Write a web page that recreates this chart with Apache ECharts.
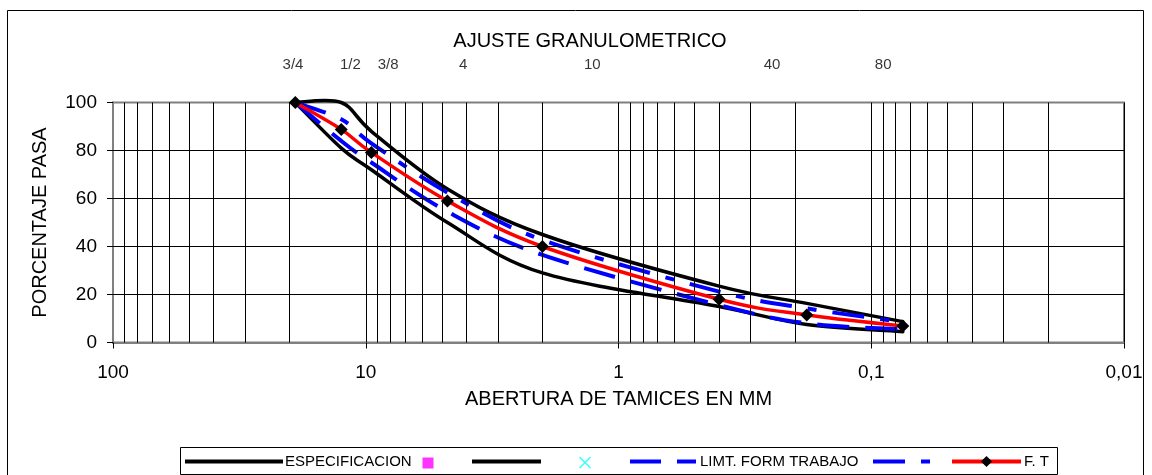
<!DOCTYPE html>
<html>
<head>
<meta charset="utf-8">
<script src="https://cdn.jsdelivr.net/npm/echarts@6/dist/echarts.min.js"></script>
<style>
html,body{margin:0;padding:0;background:#fff;}
#chart{width:1152px;height:475px;}
</style>
</head>
<body>
<div id="chart"></div>
<script>
// ---- data (sieve openings in mm, percent passing) ----
const SIEVES      = [19.0, 12.5, 9.5, 4.75, 2.0, 0.4, 0.18, 0.075];
const SPEC_UPPER  = [100, 100, 88, 64, 45, 23.5, 16.3, 8.7];
const SPEC_LOWER  = [100, 81, 72, 50, 29, 15, 7.5, 4.5];
const LIM_LOWER   = [100, 84, 75, 54.5, 36.5, 15.6, 8, 5.5];
const LIM_UPPER   = [100, 93, 83, 62.5, 42.7, 21.2, 14.2, 8.5];
const FT          = [100, 88.8, 79.2, 59, 40, 18, 11.5, 6.9];

// sieve names written above the plot, with their horizontal place (mm)
const TOP_LABELS     = ['3/4', '1/2', '3/8', '4', '10', '40', '80'];
const TOP_LABEL_POS  = [19.4, 11.5, 8.16, 4.12, 1.27, 0.247, 0.0897];

const Y_TICKS = [20, 40, 60, 80];
const X_DECADES = [10, 1, 0.1, 0.01];
const X_MULTS = [2, 3, 4, 5, 6, 7, 8, 9];

const TITLE = 'AJUSTE GRANULOMETRICO';
const Y_NAME = 'PORCENTAJE PASA';
const X_NAME = 'ABERTURA DE TAMICES EN MM';
const NAMES = ['ESPECIFICACION', ' ', '  ', '   ', 'LIMT. FORM TRABAJO', '    ', 'F. T'];

const FONT = '"Liberation Sans", Arial, sans-serif';

const pairs = ys => SIEVES.map((x, i) => [x, ys[i]]);

const minorX = [];
X_DECADES.forEach(d => X_MULTS.forEach(m => minorX.push({ xAxis: +(m * d).toPrecision(6) })));

// Smoothed curve (Catmull-Rom / Excel-like) drawn through points placed by the axes
function curveRenderer(ys, stroke, width, dash, cap) {
  return function (params, api) {
    if (params.dataIndex !== 0) return null;
    const p = ys.map((y, i) => api.coord([SIEVES[i], y]));
    let d = 'M' + p[0][0] + ' ' + p[0][1];
    for (let i = 0; i < p.length - 1; i++) {
      const p0 = p[Math.max(i - 1, 0)], p1 = p[i], p2 = p[i + 1], p3 = p[Math.min(i + 2, p.length - 1)];
      const c1x = p1[0] + (p2[0] - p0[0]) / 6, c1y = p1[1] + (p2[1] - p0[1]) / 6;
      const c2x = p2[0] - (p3[0] - p1[0]) / 6, c2y = p2[1] - (p3[1] - p1[1]) / 6;
      d += ' C' + c1x + ' ' + c1y + ' ' + c2x + ' ' + c2y + ' ' + p2[0] + ' ' + p2[1];
    }
    return {
      type: 'path', shape: { pathData: d },
      style: { fill: 'none', stroke: stroke, lineWidth: width, lineDash: dash || null, lineCap: cap || 'butt', lineJoin: 'round' },
      silent: true
    };
  };
}

function curveSeries(ys, stroke, width, dash, cap, z) {
  return { type: 'custom', data: pairs(ys), renderItem: curveRenderer(ys, stroke, width, dash, cap),
    clip: false, silent: true, z: z, xAxisIndex: 0, yAxisIndex: 0 };
}

const chart = echarts.init(document.getElementById('chart'), null, { renderer: 'canvas' });

const gridLines = {
  type: 'line', data: [], silent: true, xAxisIndex: 0, yAxisIndex: 0,
  markLine: {
    silent: true, symbol: 'none', animation: false,
    label: { show: false },
    lineStyle: { color: '#000', width: 1, type: 'solid' },
    emphasis: { disabled: true },
    data: minorX.concat(Y_TICKS.map(v => ({ yAxis: v })))
  }
};

const option = {
  animation: false,
  backgroundColor: '#fff',
  textStyle: { fontFamily: FONT, color: '#000' },
  title: {
    text: TITLE, left: 585, top: 26, textAlign: 'center',
    textStyle: { fontFamily: FONT, fontSize: 20, fontWeight: 'normal', color: '#000' }
  },
  graphic: [
    { type: 'rect', shape: { x: 7.5, y: 10.5, width: 1136, height: 600 }, style: { fill: null, stroke: '#000', lineWidth: 1 }, silent: true, z: -1 },
    { type: 'rect', shape: { x: 180.5, y: 447.5, width: 877, height: 27 }, style: { fill: '#fff', stroke: '#000', lineWidth: 1 }, silent: true, z: 0 }
  ],
  grid: [
    { left: 113, right: 28, top: 102.5, bottom: 132.5, show: true, borderColor: '#808080', borderWidth: 2, backgroundColor: 'transparent' },
    { left: 113, right: 28, top: 55, height: 20 }
  ],
  xAxis: [
    {
      type: 'log', logBase: 10, min: 0.01, max: 100, inverse: true, gridIndex: 0,
      name: X_NAME, nameLocation: 'middle', nameGap: 47,
      nameTextStyle: { fontFamily: FONT, fontSize: 20, color: '#000' },
      axisLine: { show: true, onZero: false, lineStyle: { color: '#808080', width: 2 } },
      axisTick: { show: true, inside: false, length: 6, lineStyle: { color: '#000', width: 1 } },
      axisLabel: { fontFamily: FONT, fontSize: 19, color: '#000', margin: 21,
        formatter: v => String(v).replace('.', ',') },
      splitLine: { show: true, lineStyle: { color: '#000', width: 1 } },
      minorTick: { show: false }, minorSplitLine: { show: false }
    },
    { type: 'log', logBase: 10, min: 0.01, max: 100, inverse: true, gridIndex: 1, show: false }
  ],
  yAxis: [
    {
      type: 'value', min: 0, max: 100, interval: 20, gridIndex: 0,
      name: Y_NAME, nameLocation: 'middle', nameGap: 63,
      nameTextStyle: { fontFamily: FONT, fontSize: 20, color: '#000' },
      axisLine: { show: true, lineStyle: { color: '#808080', width: 2 } },
      axisTick: { show: true, inside: false, length: 6, lineStyle: { color: '#000', width: 1 } },
      axisLabel: { fontFamily: FONT, fontSize: 19, color: '#000', margin: 16 },
      splitLine: { show: false }
    },
    { type: 'value', min: 0, max: 1, gridIndex: 1, show: false }
  ],
  legend: [
    { data: [{ name: NAMES[0], icon: 'path://M0,0H98V4H0Z', itemStyle: { color: '#000' } }],
      left: 185, top: 454, itemWidth: 98, itemHeight: 14, padding: 0, itemGap: 0, selectedMode: false,
      textStyle: { fontFamily: FONT, fontSize: 15, color: '#000', padding: [0, 0, 0, -3] } },
    { data: [{ name: NAMES[1], icon: 'rect', itemStyle: { color: '#ff00ff' } }],
      left: 422.5, top: 455.5, itemWidth: 11, itemHeight: 11, padding: 0, selectedMode: false,
      textStyle: { fontSize: 15 } },
    { data: [{ name: NAMES[2], icon: 'path://M0,0H69V4H0Z', itemStyle: { color: '#000' } }],
      left: 472, top: 454, itemWidth: 69, itemHeight: 14, padding: 0, selectedMode: false,
      textStyle: { fontSize: 15 } },
    { data: [{ name: NAMES[3], icon: 'path://M0,1L1,0L6,5L11,0L12,1L7,6L12,11L11,12L6,7L1,12L0,11L5,6Z', itemStyle: { color: '#00ffff' } }],
      left: 579, top: 455, itemWidth: 12, itemHeight: 12, padding: 0, selectedMode: false,
      textStyle: { fontSize: 15 } },
    { data: [{ name: NAMES[4], icon: 'path://M0,0H31V4H0Z M47,0H66V4H47Z', itemStyle: { color: '#0000ff' } }],
      left: 630, top: 454, itemWidth: 66, itemHeight: 14, padding: 0, selectedMode: false,
      textStyle: { fontFamily: FONT, fontSize: 15, color: '#000', padding: [0, 0, 0, -1] } },
    { data: [{ name: NAMES[5], icon: 'path://M0,0H32V4H0Z M48,0H57V4H48Z', itemStyle: { color: '#0000ff' } }],
      left: 873, top: 454, itemWidth: 57, itemHeight: 14, padding: 0, selectedMode: false,
      textStyle: { fontSize: 15 } },
    { data: [{ name: NAMES[6] }],
      left: 950, top: 454, itemWidth: 69, itemHeight: 14, padding: 0, selectedMode: false,
      lineStyle: { color: '#ff0000', width: 4, opacity: 1 },
      textStyle: { fontFamily: FONT, fontSize: 15, color: '#000', padding: [0, 0, 0, -2] } }
  ],
  series: [
    gridLines,
    curveSeries(SPEC_UPPER, '#000', 3.5, null, 'round', 3),
    { name: NAMES[0], type: 'line', data: [], symbol: 'none', color: '#000' },
    { name: NAMES[1], type: 'scatter', data: [], symbol: 'rect', color: '#ff00ff' },
    curveSeries(SPEC_LOWER, '#000', 3.5, null, 'round', 3),
    { name: NAMES[2], type: 'line', data: [], symbol: 'none', color: '#000' },
    { name: NAMES[3], type: 'scatter', data: [], color: '#00ffff' },
    curveSeries(LIM_LOWER, '#0000ff', 4, [32, 16], 'butt', 4),
    { name: NAMES[4], type: 'line', data: [], symbol: 'none', color: '#0000ff' },
    curveSeries(LIM_UPPER, '#0000ff', 4, [32, 16, 9, 16], 'butt', 4),
    { name: NAMES[5], type: 'line', data: [], symbol: 'none', color: '#0000ff' },
    curveSeries(FT, '#ff0000', 3.5, null, 'round', 5),
    { name: NAMES[6], type: 'line', data: pairs(FT), symbol: 'diamond', symbolSize: 13, clip: false,
      color: '#000', itemStyle: { color: '#000' }, lineStyle: { color: '#ff0000', width: 0, opacity: 0 }, z: 6 },
    { type: 'scatter', xAxisIndex: 1, yAxisIndex: 1, silent: true, symbolSize: 1,
      itemStyle: { color: 'rgba(0,0,0,0)' },
      label: { show: true, position: 'inside', formatter: p => p.name,
        fontFamily: FONT, fontSize: 15, color: '#000' },
      labelLayout: { hideOverlap: false },
      data: TOP_LABELS.map((t, i) => ({ name: t, value: [TOP_LABEL_POS[i], 0.5] })) }
  ]
};
chart.setOption(option);
</script>
</body>
</html>
